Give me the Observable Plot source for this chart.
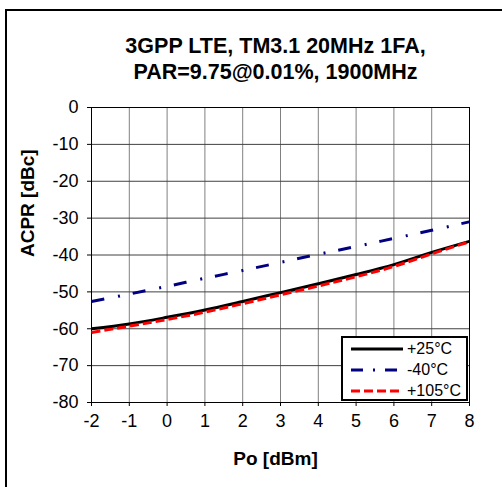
<!DOCTYPE html>
<html>
<head>
<meta charset="utf-8">
<script src="https://cdn.jsdelivr.net/npm/d3@7"></script>
<script src="https://cdn.jsdelivr.net/npm/@observablehq/plot@0.6"></script>
<style>
  html, body { margin: 0; padding: 0; background: #fff; }
  #wrap { position: relative; width: 502px; height: 487px; overflow: hidden; font-family: "Liberation Sans", Arial, sans-serif; }
  #frame { position: absolute; left: 5px; top: 9px; width: 600px; height: 600px; border-left: 2px solid #000; border-top: 2px solid #000; box-sizing: border-box; pointer-events: none; }
  #legend { position: absolute; left: 341px; top: 336px; width: 127px; height: 65px; border: 2px solid #000; box-sizing: border-box; background: #fff; font-size: 16px; }
  .row { position: absolute; left: 7px; height: 20px; display: flex; align-items: center; }
  .row span { margin-left: 3px; color: #000; }
  #wrap svg g[aria-label="x-axis tick label"], #wrap svg g[aria-label="y-axis tick label"] { font-size: 18px; }
</style>
</head>
<body>
<div id="wrap"><div id="frame"></div></div>
<script>
const xValues = [-2, -1, 0, 1, 2, 3, 4, 5, 6, 7, 8];
const acpr25  = [-60.0, -58.7, -56.9, -54.9, -52.6, -50.2, -47.8, -45.3, -42.6, -39.3, -36.3];
const acprM40 = [-52.6, -50.6, -48.5, -46.3, -44.2, -42.0, -39.8, -37.7, -35.5, -33.3, -31.0];
const acpr105 = [-61.0, -59.3, -57.5, -55.5, -53.2, -50.8, -48.4, -45.9, -43.1, -39.7, -36.4];
const seriesNames = ["+25°C", "-40°C", "+105°C"];
const xTicks = [-2, -1, 0, 1, 2, 3, 4, 5, 6, 7, 8];
const yTicks = [-80, -70, -60, -50, -40, -30, -20, -10, 0];
const titleLines = ["3GPP LTE, TM3.1 20MHz 1FA,", "PAR=9.75@0.01%, 1900MHz"];

const styles = [
  {stroke: "#000000", dash: null},
  {stroke: "#000080", dash: "13,14,2,13"},
  {stroke: "#ff0000", dash: "9,4"}
];
const seriesVals = [acpr25, acprM40, acpr105];
const rows = [];
seriesVals.forEach((vals, i) => vals.forEach((v, j) => rows.push({x: xValues[j], y: v, s: seriesNames[i]})));

const lineMarks = seriesNames.map((name, i) =>
  Plot.line(rows.filter(d => d.s === name), {
    x: "x", y: "y", stroke: styles[i].stroke, strokeWidth: 3,
    strokeDasharray: styles[i].dash, strokeLinecap: "butt", curve: "monotone-x"
  })
);

const fmt = d => String(d);
const chart = Plot.plot({
  width: 502, height: 487,
  marginLeft: 91, marginRight: 33, marginTop: 107, marginBottom: 85,
  style: {fontFamily: "'Liberation Sans', Arial, sans-serif", fontSize: "18px", background: "transparent", color: "#000"},
  x: {domain: [-2, 8], ticks: xTicks, label: null, tickFormat: fmt},
  y: {domain: [-80, 0], ticks: yTicks, label: null, tickFormat: fmt},
  marks: [
    Plot.ruleX(xTicks, {stroke: "#808080", strokeWidth: 1}),
    Plot.ruleY(yTicks, {stroke: "#404040", strokeWidth: 1}),
    Plot.frame({stroke: "#000", strokeWidth: 1}),
    ...lineMarks,
    Plot.axisX({ticks: xTicks, tickFormat: fmt, tickSize: 4, tickPadding: 8, fontSize: 18, label: null}),
    Plot.axisY({ticks: yTicks, tickFormat: fmt, tickSize: 4, tickPadding: 9, fontSize: 18, label: null}),
    Plot.text([titleLines.join("\n")], {frameAnchor: "top", dy: -72, dx: -5, fontSize: 21.5, fontWeight: "bold", lineHeight: 1.17, lineAnchor: "top"}),
    Plot.text(["Po [dBm]"], {frameAnchor: "bottom", dy: 62, dx: -5, fontSize: 19, fontWeight: "bold"}),
    Plot.text(["ACPR [dBc]"], {frameAnchor: "left", dx: -64, dy: 2, rotate: -90, fontSize: 19, fontWeight: "bold"})
  ]
});
const wrap = document.getElementById("wrap");
chart.style.position = "absolute";
chart.style.left = "0px";
chart.style.top = "0px";
wrap.insertBefore(chart, wrap.firstChild);

const legend = document.createElement("div");
legend.id = "legend";
seriesNames.forEach((name, i) => {
  const row = document.createElement("div");
  row.className = "row";
  row.style.top = (1 + i * 21) + "px";
  const svg = d3.create("svg").attr("width", 54).attr("height", 10);
  svg.append("line").attr("x1", 1).attr("x2", 53).attr("y1", 5).attr("y2", 5)
    .attr("stroke", styles[i].stroke).attr("stroke-width", 3)
    .attr("stroke-dasharray", i === 1 ? "12,10,2,10" : styles[i].dash);
  row.appendChild(svg.node());
  const sp = document.createElement("span");
  sp.textContent = name;
  row.appendChild(sp);
  legend.appendChild(row);
});
wrap.appendChild(legend);
</script>
</body>
</html>
